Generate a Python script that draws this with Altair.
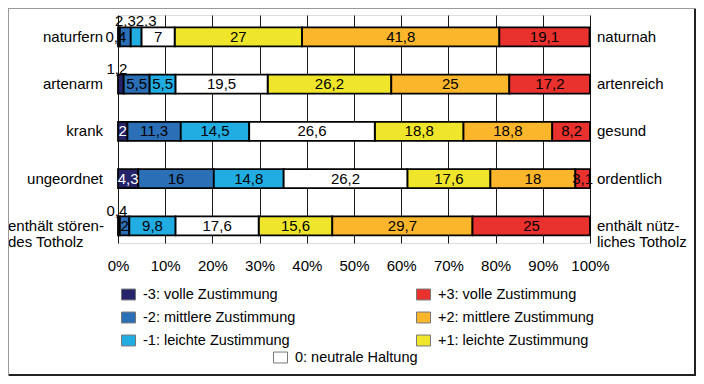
import altair as alt
import pandas as pd

# ---- data ----
categories_left = ["naturfern", "artenarm", "krank", "ungeordnet", "enthält stören-\ndes Totholz"]
categories_right = ["naturnah", "artenreich", "gesund", "ordentlich", "enthält nütz-\nliches Totholz"]
levels = ["-3", "-2", "-1", "0", "+1", "+2", "+3"]
level_names = [
    "-3: volle Zustimmung",
    "-2: mittlere Zustimmung",
    "-1: leichte Zustimmung",
    "0: neutrale Haltung",
    "+1: leichte Zustimmung",
    "+2: mittlere Zustimmung",
    "+3: volle Zustimmung",
]
vals_m3 = [0.4, 1.2, 2, 4.3, 0.4]
vals_m2 = [2.3, 5.5, 11.3, 16, 2]
vals_m1 = [2.3, 5.5, 14.5, 14.8, 9.8]
vals_0 = [7, 19.5, 26.6, 26.2, 17.6]
vals_p1 = [27, 26.2, 18.8, 17.6, 15.6]
vals_p2 = [41.8, 25, 18.8, 18, 29.7]
vals_p3 = [19.1, 17.2, 8.2, 3.1, 25]
x_ticks = [0, 10, 20, 30, 40, 50, 60, 70, 80, 90, 100]

colors = ["#25246b", "#2b6fb6", "#22ade2", "#ffffff", "#efe62b", "#fbb62c", "#e9322d"]

series = [vals_m3, vals_m2, vals_m1, vals_0, vals_p1, vals_p2, vals_p3]


def fmt(v):
    return f"{v:g}".replace(".", ",")


rows = []
for i, cat in enumerate(categories_left):
    start = 0.0
    for j, lev in enumerate(levels):
        v = series[j][i]
        rows.append(dict(pair=cat, level=lev, name=level_names[j], value=v,
                         start=start, end=start + v, mid=start + v / 2,
                         text=fmt(v), key=f"{i}|{lev}"))
        start += v
df = pd.DataFrame(rows)
cats = pd.DataFrame({"pair": categories_left, "right": categories_right,
                     "i": list(range(len(categories_left)))})

FONT = "Liberation Sans"
W, H = 472, 228

yscale = alt.Scale(domain=categories_left, paddingInner=0.6, paddingOuter=0.2125, align=0.62)
Y = alt.Y("pair:N", scale=yscale, axis=None)
xaxis = alt.Axis(values=x_ticks, labelExpr="datum.value + '%'", grid=True, gridColor="#1a1a1a",
                 gridWidth=1, gridOpacity=1, domain=False, ticks=False, labelPadding=15,
                 labelFontSize=15, labelFont=FONT, labelColor="black", title=None, labelFlush=False)
xscale = alt.Scale(domain=[0, 100], nice=False, clamp=True)

SYM = "M-1,-0.78H1V0.78H-1Z"


def legend(x, y):
    return alt.Legend(orient="none", legendX=x, legendY=y, title=None, direction="vertical",
                      padding=0, symbolType=SYM, symbolSize=196, symbolStrokeColor="#777",
                      symbolStrokeWidth=1, labelFontSize=14.5, labelFont=FONT, labelColor="black",
                      labelOffset=7, rowPadding=7, labelLimit=300)


def bars(lev_list, leg):
    idx = [levels.index(l) for l in lev_list]
    return alt.Chart(df).transform_filter(
        alt.FieldOneOfPredicate(field="level", oneOf=lev_list)
    ).mark_bar(stroke="black", strokeWidth=1.8).encode(
        x=alt.X("start:Q", scale=xscale, axis=xaxis),
        x2="end:Q",
        y=Y,
        color=alt.Color("name:N",
                        scale=alt.Scale(domain=[level_names[k] for k in idx],
                                        range=[colors[k] for k in idx]),
                        legend=leg),
    )


neg = bars(["-3", "-2", "-1"], legend(3, 272))
pos = bars(["+3", "+2", "+1"], legend(298, 272))
neu = bars(["0"], legend(155, 335))

special = {
    "0|-3": (-3, 0),
    "0|-2": (0, -16),
    "0|-1": (10, -16),
    "1|-3": (-4, -15),
    "4|-3": (-2, -15),
}
special_list = ",".join(f"'{k}'" for k in special)

txt_color = alt.condition("datum.level == '-3' && datum.value >= 1", alt.value("white"), alt.value("black"))

normal_text = alt.Chart(df).transform_filter(
    f"indexof([{special_list}], datum.key) < 0"
).mark_text(font=FONT, fontSize=15, baseline="middle", align="center").encode(
    x=alt.X("mid:Q", scale=xscale, axis=xaxis), y=Y, text="text:N", color=txt_color
)

special_layers = []
for k, (dx, dy) in special.items():
    special_layers.append(
        alt.Chart(df).transform_filter(alt.datum.key == k).mark_text(
            font=FONT, fontSize=15, baseline="middle", align="center", dx=dx, dy=dy, color="black"
        ).encode(x=alt.X("mid:Q", scale=xscale, axis=xaxis), y=Y, text="text:N")
    )

left_lab = alt.Chart(cats).transform_filter("datum.i < 4").mark_text(
    font=FONT, fontSize=15, align="right", baseline="middle", color="black").encode(
    x=alt.value(-15), y=Y, text="pair:N")
left_lab2 = alt.Chart(cats).transform_filter("datum.i >= 4").mark_text(
    font=FONT, fontSize=15, align="left", baseline="middle", lineBreak="\n", lineHeight=16,
    color="black").encode(x=alt.value(-110), y=Y, text="pair:N")
right_lab = alt.Chart(cats).mark_text(font=FONT, fontSize=15, align="left", baseline="middle",
                                      lineBreak="\n", lineHeight=16, color="black").encode(
    x=alt.value(W + 7), y=Y, text="right:N")

one = alt.Data(values=[{"a": 1}])
frame_r = alt.Chart(one).mark_rule(color="#222", strokeWidth=2).encode(
    x=alt.value(577), y=alt.value(-7), y2=alt.value(361))
frame_b = alt.Chart(one).mark_rule(color="#222", strokeWidth=2).encode(
    x=alt.value(-110), x2=alt.value(578), y=alt.value(360))
frame_l = alt.Chart(one).mark_rule(color="#999", strokeWidth=1).encode(
    x=alt.value(-109.5), y=alt.value(-7), y2=alt.value(361))
frame_t = alt.Chart(one).mark_rule(color="#999", strokeWidth=1).encode(
    x=alt.value(-110), x2=alt.value(578), y=alt.value(-6.5))

chart = alt.layer(
    neg, pos, neu, normal_text, *special_layers, left_lab, left_lab2, right_lab,
    frame_r, frame_b, frame_l, frame_t
).resolve_scale(color="independent").properties(
    width=W, height=H,
    autosize=alt.AutoSizeParams(type="none"),
    padding={"left": 110, "top": 7, "right": 106, "bottom": 133},
).configure_view(stroke=None).configure(font=FONT)

chart.save("out.html", embed_options={"renderer": "svg", "actions": False})
